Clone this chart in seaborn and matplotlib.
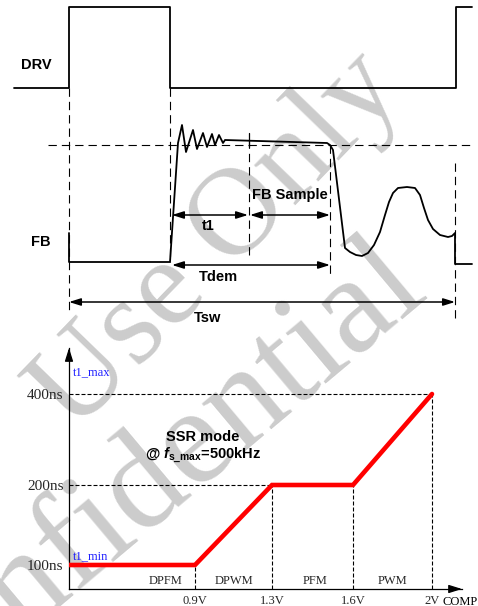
import numpy as np
import matplotlib
matplotlib.use("Agg")
import matplotlib.pyplot as plt
import seaborn as sns
import pandas as pd

# ---------------- DATA ----------------
# Top timing diagram (time axis in drawing units, level axis downward)
drv_t = [14, 69, 69, 170, 170, 456, 456, 472]
drv_lvl = [88, 88, 7, 7, 88, 88, 7, 7]

fb_t = [69, 69, 170, 178, 182, 186, 193, 197, 203, 207, 212, 215, 219, 223, 225,
        327, 330, 333, 345, 350, 356, 362, 368, 374, 380, 385, 389, 393, 398, 407,
        415, 420, 424, 428, 433, 440, 448, 452, 455, 455, 472]
fb_lvl = [233, 262, 262, 143, 125, 152, 130, 149, 133, 147, 134, 145, 135, 143, 140,
          143, 145, 150, 248, 252, 255, 256, 253, 245, 232, 215, 202, 193, 188, 187,
          188, 195, 208, 220, 229, 235, 237, 236, 233, 264, 264]

# Bottom chart: t1 vs COMP
comp_v = [0.0, 0.9, 1.3, 1.6, 2.0]
t1_ns = [100, 100, 200, 200, 400]
x_ticks = [0.9, 1.3, 1.6, 2.0]
x_tick_labels = ["0.9V", "1.3V", "1.6V", "2V"]
y_ticks = [100, 200, 400]
y_tick_labels = ["100ns", "200ns", "400ns"]
modes = ["DPFM", "DPWM", "PFM", "PWM"]
mode_x = [0.69, 1.10, 1.46, 1.80]

# ---------------- FIGURE ----------------
W, H = 478, 606
fig = plt.figure(figsize=(W / 100, H / 100), dpi=100)
sns.set_style("white")
plt.rcParams["font.family"] = ["Liberation Sans", "DejaVu Sans"]
plt.rcParams["mathtext.fontset"] = "custom"
plt.rcParams["mathtext.rm"] = "Liberation Sans:bold"
plt.rcParams["mathtext.it"] = "Liberation Sans:italic:bold"
plt.rcParams["mathtext.bf"] = "Liberation Sans:bold"

serif = ["Liberation Serif", "DejaVu Serif"]

ax = fig.add_axes([0, 0, 1, 1])
ax.set_xlim(0, W)
ax.set_ylim(H, 0)
ax.axis("off")

# watermark
wm = "#cccccc"
ax.text(218, 242, "Use Only", rotation=46, fontsize=90, color=wm, family=serif,
        ha="center", va="center", rotation_mode="anchor", zorder=0)
ax.text(142, 490, "Confidential", rotation=40, fontsize=100, color=wm, family=serif,
        ha="center", va="center", rotation_mode="anchor", zorder=0)

# dashed guide lines (top)
dash = (0, (7.5, 4.5))
for xx, y0, y1 in [(69, 88, 313), (170, 88, 262), (249, 140, 255),
                   (330, 145, 277), (455, 163, 320)]:
    ax.plot([xx, xx], [y0, y1], color="k", lw=0.8, ls=dash, zorder=2)
ax.plot([48, 470], [145, 145], color="k", lw=0.8, ls=dash, zorder=2)
ax.plot([249, 249], [133, 147], color="k", lw=0.9, zorder=2)

# waveforms
sns.lineplot(x=drv_t, y=drv_lvl, sort=False, estimator=None, color="k",
             lw=1.3, ax=ax, zorder=3)
sns.lineplot(x=fb_t, y=fb_lvl, sort=False, estimator=None, color="k",
             lw=1.3, ax=ax, zorder=3)
ax.set_xlim(0, W)
ax.set_ylim(H, 0)


def arrow2(x0, x1, y):
    ax.annotate("", xy=(x1, y), xytext=(x0, y),
                arrowprops=dict(arrowstyle="<|-|>,head_length=0.7,head_width=0.22",
                                lw=1.1, color="k", shrinkA=0, shrinkB=0,
                                mutation_scale=10), zorder=3)


arrow2(172, 248, 215)
arrow2(250, 330, 215)
arrow2(172, 330, 265)
arrow2(69, 455, 302)

bold = dict(fontweight="bold", fontsize=10.5, color="k", ha="center", va="center", zorder=4)
ax.text(36, 65, "DRV", **bold)
ax.text(41, 242, "FB", **bold)
ax.text(208, 226, "t1", **bold)
ax.text(290, 195, "FB Sample", **bold)
ax.text(218, 277, "Tdem", **bold)
ax.text(208, 318, "Tsw", **bold)
ax.text(203, 437, "SSR mode", **bold)
ax.text(203, 455, r"@ $f_{\rm s\_max}$=500kHz", **bold)

blue = "#1f1fff"
ax.text(73, 372, "t1_max", family=serif, fontsize=9, color=blue, ha="left", va="center")
ax.text(73, 556, "t1_min", family=serif, fontsize=9, color=blue, ha="left", va="center")
ax.text(443, 602, "COMP", family=serif, fontsize=9, color="k", ha="left", va="center")

# ---------------- bottom chart with schematic (piecewise) scales ----------------
V_KN = [0.0, 0.9, 1.3, 1.6, 2.0, 2.2]
X_PX = [69, 195, 272, 353, 432, 472]
T_KN = [0, 100, 200, 400, 500]
Y_PX = [589, 565, 485, 394, 348]


def fx(v):
    return np.interp(np.asarray(v, dtype=float), V_KN, X_PX)


def fx_inv(p):
    return np.interp(np.asarray(p, dtype=float), X_PX, V_KN)


def fy(t):
    return -np.interp(np.asarray(t, dtype=float), T_KN, Y_PX)


def fy_inv(p):
    return np.interp(-np.asarray(p, dtype=float), Y_PX[::-1], T_KN[::-1])


left_px, right_px, top_px, bot_px = 69, 462, 348, 589
axb = fig.add_axes([left_px / W, (H - bot_px) / H, (right_px - left_px) / W,
                    (bot_px - top_px) / H])
axb.patch.set_alpha(0)
axb.set_xscale("function", functions=(fx, fx_inv))
axb.set_yscale("function", functions=(fy, fy_inv))

df = pd.DataFrame({"COMP": comp_v, "t1": t1_ns})
sns.lineplot(data=df, x="COMP", y="t1", color="#ff0000", lw=3.3, ax=axb,
             sort=False, estimator=None, zorder=3)
axb.lines[-1].set_solid_joinstyle("miter")

fine = (0, (3.6, 1.8))
axb.plot([0, 2.0], [400, 400], color="k", lw=0.8, ls=fine)
axb.plot([0, 1.3], [200, 200], color="k", lw=0.8, ls=fine)
axb.plot([0.9, 0.9], [0, 100], color="k", lw=0.8, ls=fine)
axb.plot([1.3, 1.3], [0, 200], color="k", lw=0.8, ls=fine)
axb.plot([1.6, 1.6], [0, 200], color="k", lw=0.8, ls=fine)
axb.plot([2.0, 2.0], [0, 400], color="k", lw=0.8, ls=fine)

for m, mx in zip(modes, mode_x):
    axb.text(mx, 33, m, family=serif, fontsize=9, ha="center", va="center")

axb.set_xlim(0, float(fx_inv(right_px)))
axb.set_ylim(0, 500)
axb.set_xticks(x_ticks)
axb.set_xticklabels(x_tick_labels, family=serif, fontsize=9)
axb.set_yticks(y_ticks)
axb.set_yticklabels(y_tick_labels, family=serif, fontsize=11)
axb.tick_params(axis="x", length=0, pad=4)
axb.tick_params(axis="y", length=0, pad=4)
axb.minorticks_off()
axb.set_xlabel("")
axb.set_ylabel("")
for s in ["top", "right"]:
    axb.spines[s].set_visible(False)
for s in ["left", "bottom"]:
    axb.spines[s].set_color("k")
    axb.spines[s].set_linewidth(0.9)

axb.annotate("", xy=(1, 0), xycoords="axes fraction", xytext=(0.97, 0),
             arrowprops=dict(arrowstyle="-|>,head_length=0.8,head_width=0.25",
                             lw=0.9, color="k", shrinkA=0, shrinkB=0, mutation_scale=10))
axb.annotate("", xy=(0, 1), xycoords="axes fraction", xytext=(0, 0.95),
             arrowprops=dict(arrowstyle="-|>,head_length=0.8,head_width=0.25",
                             lw=0.9, color="k", shrinkA=0, shrinkB=0, mutation_scale=10))

fig.savefig("out.png", dpi=100)
